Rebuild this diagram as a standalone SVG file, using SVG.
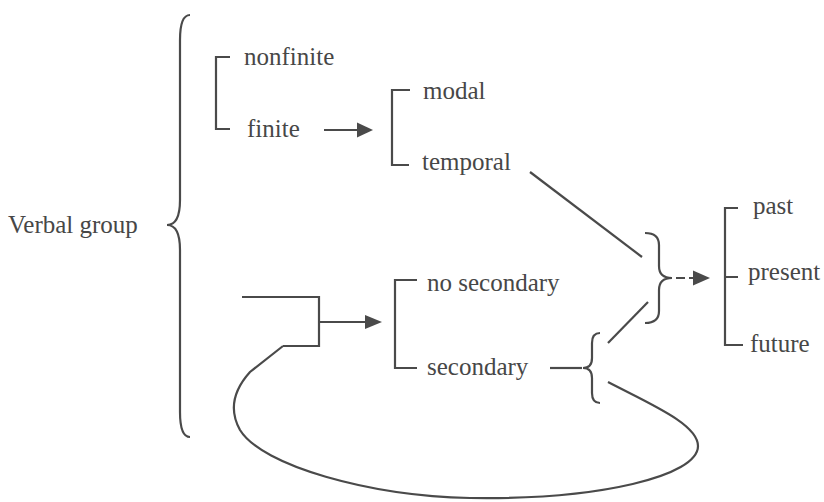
<svg xmlns="http://www.w3.org/2000/svg" width="824" height="502" viewBox="0 0 824 502">
<style>
text{font-family:"Liberation Serif","Times New Roman",serif;font-size:25px;fill:#474747}
.ln{fill:none;stroke:#4a4a4a;stroke-width:2.2}
.hd{fill:#4a4a4a;stroke:none}
</style>
<rect width="824" height="502" fill="#fff"/>
<g id="verbal-group">
<text x="8" y="233">Verbal group</text>
<path class="ln" d="M190 15 Q180 15 180 40 L180 200 Q180 225 167 225 Q180 225 180 250 L180 412 Q180 437 190 437"/>
</g>
<g id="finiteness">
<path class="ln" d="M230 57 H216 V129 H230"/>
<text x="244" y="65">nonfinite</text>
<text x="247" y="137">finite</text>
</g>
<g id="modality">
<path class="ln" d="M410 90 H392 V165 H409"/>
<text x="423" y="99">modal</text>
<text x="422" y="170">temporal</text>
</g>
<g id="secondary-tense">
<path class="ln" d="M417 280 H395 V368 H417"/>
<text x="427" y="291">no secondary</text>
<text x="427" y="375">secondary</text>
</g>
<g id="lower-brace">
<path class="ln" d="M600 333 Q592 333 592 343 L592 358 Q592 368 583 368 Q592 368 592 378 L592 393 Q592 403 600 403"/>
</g>
<g id="right-brace">
<path class="ln" d="M645 233 Q659 233 659 245 L659 266 Q659 278 672 278 Q659 278 659 290 L659 311 Q659 323 645 323"/>
</g>
<g id="tense">
<path class="ln" d="M738 208 H725 V345 H743 M725 277 H738"/>
<text x="753" y="214">past</text>
<text x="748" y="280">present</text>
<text x="750" y="352">future</text>
</g>
<g id="connectors">
<path class="ln" d="M324 130 H360"/>
<path class="hd" d="M357 122.5 L373 130 L357 137.5 Z"/>
<path class="ln" d="M242 297 H319 V346 H283"/>
<path class="ln" d="M319 322 H368"/>
<path class="hd" d="M365 315 L382 322 L365 329 Z"/>
<path class="ln" d="M530 172 L642 257"/>
<path class="ln" d="M608 343 L648 302"/>
<path class="ln" d="M550 368 H582"/>
<path class="ln" d="M676 278 H695" stroke-dasharray="9 4"/>
<path class="hd" d="M693 270.5 L710 278 L693 285.5 Z"/>
<path class="ln" d="M608 382 C650 404 698 424 698 446 C698 476 600 500 470 498 C370 496 262 466 240 430 C230 412 232 392 250 372 L283 346"/>
</g>
</svg>
